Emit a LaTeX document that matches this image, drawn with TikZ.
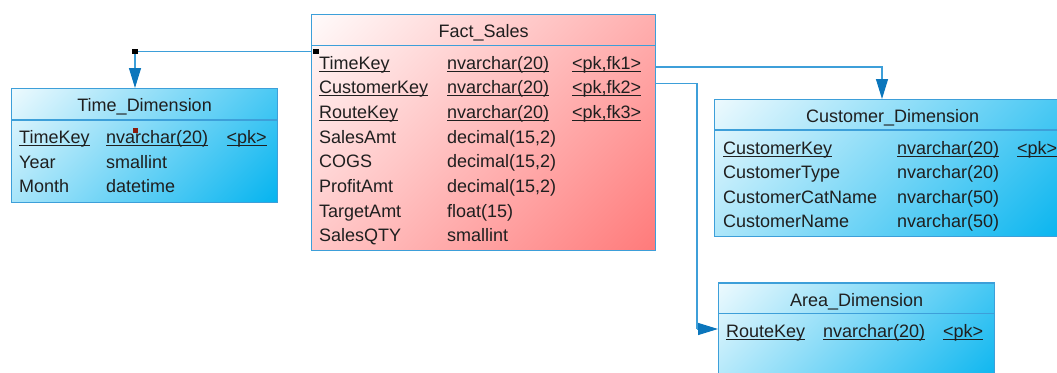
\documentclass[tikz,border=0pt]{standalone}
\usepackage{fontspec}
\setmainfont{Liberation Sans}
\usetikzlibrary{arrows.meta}
\definecolor{dimblue}{HTML}{06B4EF}
\definecolor{factred}{HTML}{FF7B7B}
\definecolor{edgeblue}{HTML}{3D9FD9}
\definecolor{tipblue}{HTML}{0B76BC}
\definecolor{markred}{HTML}{8B1C0C}
% corner-to-corner fills of the tables
\pgfdeclareverticalshading{dimfade}{100bp}{color(0bp)=(dimblue); color(15bp)=(dimblue);
  color(85bp)=(white!92!dimblue); color(100bp)=(white!92!dimblue)}
\pgfdeclareverticalshading{factfade}{100bp}{color(0bp)=(factred); color(15bp)=(factred);
  color(85bp)=(white!96!factred); color(100bp)=(white!96!factred)}
% key columns: rule just under the baseline
\newcommand\keyfield[1]{\setbox0=\hbox{#1}\rlap{\rule[-2.6pt]{\wd0}{1.1pt}}\box0}

\begin{document}
\begin{tikzpicture}[
  x=1pt, y=-1pt,
  font=\fontsize{18}{21}\selectfont,
  tbl/.style={draw=edgeblue, line width=1.2pt, inner sep=0pt, anchor=north west},
  dim/.style={tbl, shading=dimfade, shading angle=45},
  fact/.style={tbl, shading=factfade, shading angle=45},
  sepline/.style={draw=edgeblue, line width=1.2pt},
  title/.style={anchor=base, inner sep=0pt, text=black!88},
  cell/.style={anchor=base west, inner sep=0pt, text=black!88},
  link/.style={draw=edgeblue, line width=1.2pt},
  arr/.style={link, -{Triangle[length=20pt, width=12pt, color=tipblue]}},
  dot/.style={fill=black, inner sep=0pt, minimum size=5.5pt}
]
\useasboundingbox (0,0) rectangle (1057,372);
\clip (0,0) rectangle (1057,372);

% --- tables ---
\node[fact, minimum width=344pt, minimum height=236pt] (fact) at (311,14) {};
\draw[sepline] ([yshift=-31.7pt]fact.north west) -- ([yshift=-31.7pt]fact.north east);
\node[title] (fact-title) at ([yshift=-23.5pt]fact.north) {Fact\_Sales};

\node[dim, minimum width=266pt, minimum height=114pt] (time) at (11,88) {};
\draw[sepline] ([yshift=-32pt]time.north west) -- ([yshift=-32pt]time.north east);
\node[title] (time-title) at ([yshift=-23.5pt]time.north) {Time\_Dimension};

\node[dim, minimum width=356pt, minimum height=137pt] (cust) at (714,99) {};
\draw[sepline] ([yshift=-31pt]cust.north west) -- ([yshift=-31pt]cust.north east);
\node[title] (cust-title) at ([yshift=-23pt]cust.north) {Customer\_Dimension};

\node[dim, minimum width=276pt, minimum height=110pt] (area) at (718,282.3) {};
\draw[sepline] ([yshift=-31.4pt]area.north west) -- ([yshift=-31.4pt]area.north east);
\node[title] (area-title) at ([yshift=-24.2pt]area.north) {Area\_Dimension};

% --- columns ---
\foreach \fld/\typ/\key [count=\i from 0] in {
  \keyfield{TimeKey}/\keyfield{nvarchar(20)}/\keyfield{<pk,fk1>},
  \keyfield{CustomerKey}/\keyfield{nvarchar(20)}/\keyfield{<pk,fk2>},
  \keyfield{RouteKey}/\keyfield{nvarchar(20)}/\keyfield{<pk,fk3>},
  SalesAmt/{decimal(15,2)}/{},
  COGS/{decimal(15,2)}/{},
  ProfitAmt/{decimal(15,2)}/{},
  TargetAmt/{float(15)}/{},
  SalesQTY/smallint/{}}
{
  \node[cell] (fact-n\i) at (319,{69.2+24.65*\i}) {\fld};
  \node[cell] (fact-t\i) at (447,{69.2+24.65*\i}) {\typ};
  \node[cell] (fact-k\i) at (572,{69.2+24.65*\i}) {\key};
}

\foreach \fld/\typ/\key [count=\i from 0] in {
  \keyfield{TimeKey}/\keyfield{nvarchar(20)}/\keyfield{<pk>},
  Year/smallint/{},
  Month/datetime/{}}
{
  \node[cell] (time-n\i) at (19,{143.8+24.4*\i}) {\fld};
  \node[cell] (time-t\i) at (106,{143.8+24.4*\i}) {\typ};
  \node[cell] (time-k\i) at (226.5,{143.8+24.4*\i}) {\key};
}

\foreach \fld/\typ/\key [count=\i from 0] in {
  \keyfield{CustomerKey}/\keyfield{nvarchar(20)}/\keyfield{<pk>},
  CustomerType/{nvarchar(20)}/{},
  CustomerCatName/{nvarchar(50)}/{},
  CustomerName/{nvarchar(50)}/{}}
{
  \node[cell] (cust-n\i) at (723,{154+24.6*\i}) {\fld};
  \node[cell] (cust-t\i) at (897,{154+24.6*\i}) {\typ};
  \node[cell] (cust-k\i) at (1017,{154+24.6*\i}) {\key};
}

\node[cell] (area-n0) at (726,337.5) {\keyfield{RouteKey}};
\node[cell] (area-t0) at (823,337.5) {\keyfield{nvarchar(20)}};
\node[cell] (area-k0) at (943,337.5) {\keyfield{<pk>}};

% --- references ---
\coordinate (tbend) at (135,51.5);
\coordinate (cbend) at (882,67);
\coordinate (abend) at (697,83.3);
\coordinate (aturn) at (697,329);

\draw[arr] (fact.west |- tbend) -| (time.north -| tbend);
\draw[arr] (fact.east |- cbend) -| (cust.north -| cbend);
\draw[link] (fact.east |- abend) -- (abend) -- (aturn);
\draw[arr] (aturn) -- (aturn -| area.west);

\node[dot] (tdot) at (tbend) {};
\node[dot] (fdot) at ([xshift=5pt]fact.west |- tbend) {};
\node[dot, fill=markred] (tmark) at (135.5,130.5) {};
\end{tikzpicture}
\end{document}
